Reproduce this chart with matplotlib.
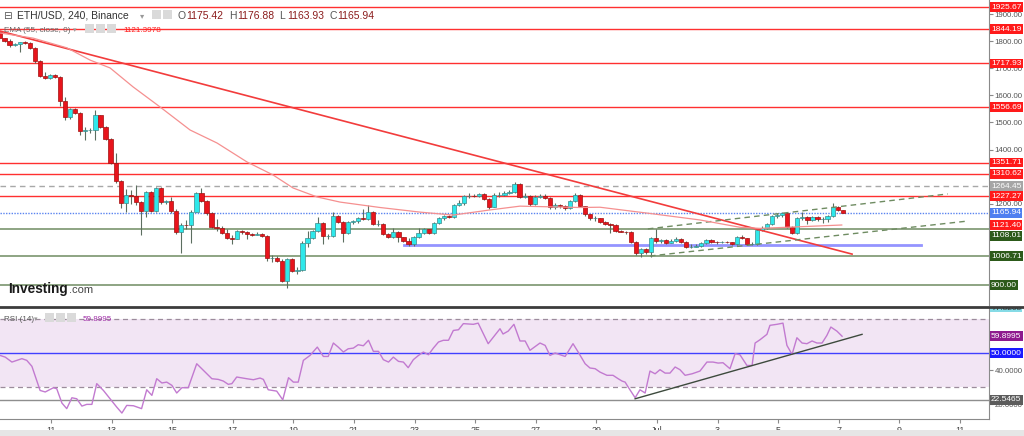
import numpy as np
import matplotlib
matplotlib.use("Agg")
import matplotlib.pyplot as plt
from matplotlib.patches import Rectangle
from matplotlib.lines import Line2D
from matplotlib.transforms import Bbox, TransformedBbox

plt.rcParams['font.family'] = ['Liberation Sans', 'DejaVu Sans']

# ---- 4h candles, ETH/USD (Binance) ----
start_day = 9.30          # day-of-June of the first candle, one candle = 1/6 day
first_open = 1835
close = [1810, 1802, 1785, 1791, 1795, 1793, 1773, 1728, 1671, 1665,
         1674, 1668, 1578, 1519, 1549, 1535, 1469, 1471, 1472, 1527,
         1484, 1439, 1350, 1282, 1204, 1232, 1230, 1207, 1174, 1244,
         1174, 1258, 1207, 1210, 1172, 1094, 1122, 1120, 1170, 1238,
         1211, 1167, 1115, 1112, 1093, 1072, 1071, 1100, 1095, 1088,
         1086, 1090, 1082, 998, 1000, 990, 916, 995, 952, 955,
         1056, 1072, 1100, 1130, 1081, 1082, 1155, 1134, 1091, 1131,
         1136, 1148, 1145, 1170, 1125, 1126, 1088, 1078, 1097, 1076,
         1063, 1051, 1078, 1093, 1106, 1092, 1128, 1146, 1155, 1152,
         1195, 1203, 1228, 1230, 1229, 1235, 1216, 1188, 1232, 1233,
         1238, 1242, 1273, 1226, 1228, 1198, 1226, 1230, 1222, 1186,
         1196, 1190, 1184, 1210, 1232, 1191, 1161, 1146, 1146, 1134,
         1124, 1122, 1100, 1097, 1094, 1060, 1017, 1033, 1020, 1072,
         1062, 1066, 1056, 1062, 1070, 1060, 1039, 1042, 1044, 1055,
         1066, 1060, 1057, 1058, 1057, 1051, 1078, 1072, 1051, 1052,
         1103, 1110, 1125, 1155, 1157, 1164, 1115, 1093, 1146, 1152,
         1140, 1150, 1144, 1145, 1155, 1187, 1175.42, 1165.94]
high = [1842, 1812, 1806, 1794, 1798, 1800, 1795, 1778, 1732, 1685,
        1678, 1678, 1672, 1594, 1553, 1552, 1538, 1483, 1480, 1545,
        1528, 1486, 1442, 1388, 1286, 1254, 1250, 1270, 1210, 1248,
        1246, 1262, 1260, 1214, 1224, 1180, 1130, 1140, 1175, 1245,
        1258, 1214, 1168, 1145, 1118, 1105, 1085, 1104, 1102, 1100,
        1092, 1094, 1092, 1084, 1010, 1008, 995, 1000, 998, 968,
        1062, 1100, 1104, 1150, 1134, 1090, 1170, 1158, 1138, 1135,
        1140, 1152, 1180, 1195, 1172, 1140, 1130, 1092, 1110, 1099,
        1078, 1072, 1082, 1110, 1110, 1108, 1132, 1150, 1158, 1160,
        1200, 1212, 1232, 1240, 1236, 1240, 1238, 1220, 1240, 1245,
        1248, 1250, 1280, 1275, 1238, 1232, 1232, 1236, 1234, 1226,
        1202, 1200, 1194, 1214, 1240, 1236, 1192, 1162, 1155, 1148,
        1136, 1128, 1124, 1104, 1100, 1098, 1062, 1038, 1036, 1076,
        1108, 1070, 1068, 1068, 1076, 1074, 1062, 1050, 1050, 1058,
        1070, 1070, 1064, 1064, 1062, 1060, 1082, 1085, 1074, 1058,
        1106, 1118, 1130, 1160, 1166, 1170, 1168, 1118, 1150, 1170,
        1154, 1154, 1154, 1150, 1158, 1204, 1190, 1176.88]
low = [1805, 1797, 1780, 1783, 1760, 1788, 1770, 1718, 1668, 1660,
       1662, 1664, 1560, 1509, 1512, 1530, 1454, 1435, 1462, 1435,
       1480, 1435, 1346, 1278, 1184, 1169, 1200, 1196, 1085, 1150,
       1168, 1168, 1200, 1200, 1165, 1090, 1019, 1105, 1056, 1168,
       1205, 1160, 1110, 1100, 1088, 1068, 1050, 1068, 1090, 1070,
       1082, 1084, 1078, 990, 985, 985, 912, 888, 948, 940,
       950, 1040, 1068, 1096, 1050, 1070, 1078, 1128, 1060, 1088,
       1126, 1128, 1140, 1140, 1120, 1118, 1085, 1074, 1074, 1060,
       1058, 1045, 1045, 1075, 1088, 1088, 1088, 1125, 1140, 1146,
       1148, 1190, 1196, 1222, 1224, 1226, 1212, 1182, 1186, 1226,
       1230, 1236, 1238, 1222, 1220, 1192, 1195, 1220, 1216, 1180,
       1182, 1184, 1176, 1182, 1206, 1186, 1156, 1140, 1138, 1128,
       1120, 1093, 1096, 1094, 1090, 1056, 1012, 1002, 1015, 1005,
       1055, 1056, 1050, 1055, 1058, 1056, 1036, 1036, 1040, 1040,
       1052, 1056, 1052, 1054, 1054, 1048, 1048, 1068, 1046, 1046,
       1048, 1098, 1108, 1120, 1148, 1150, 1112, 1088, 1090, 1140,
       1125, 1136, 1138, 1130, 1132, 1152, 1172, 1163.93]

# EMA(55)
ema_day = [9.32, 10.41, 11.53, 12.29, 12.95, 13.71, 14.60, 15.59, 16.48, 17.47,
           18.33, 18.99, 19.78, 20.54, 21.86, 23.18, 24.27, 25.49, 26.48, 28.46,
           29.12, 30.77, 32.42, 33.74, 34.40, 35.72, 37.10]
ema_val = [1830, 1811, 1775, 1730, 1701, 1631, 1557, 1472, 1424, 1354,
           1306, 1258, 1225, 1206, 1186, 1169, 1158, 1177, 1191, 1186,
           1187, 1164, 1140, 1113, 1109, 1115, 1121.40]

# RSI(14)
rsi_day = [9.32, 9.49, 9.71, 10.04, 10.20, 10.37, 10.64, 10.81, 11.08, 11.19,
           11.36, 11.52, 11.69, 11.85, 12.02, 12.18, 12.35, 12.51, 12.73, 12.95,
           13.17, 13.34, 13.50, 13.72, 13.99, 14.16, 14.33, 14.49, 14.66, 14.82,
           14.99, 15.15, 15.32, 15.53, 15.81, 16.03, 16.31, 16.52, 16.69, 16.85,
           16.97, 17.13, 17.46, 17.68, 17.90, 18.01, 18.17, 18.45, 18.65, 18.84,
           19.00, 19.16, 19.33, 19.55, 19.79, 19.99, 20.15, 20.32, 20.48, 20.65,
           20.81, 20.98, 21.14, 21.31, 21.48, 21.64, 21.81, 21.97, 22.14, 22.30,
           22.47, 22.63, 22.79, 22.96, 23.13, 23.29, 23.46, 23.62, 23.79, 23.95,
           24.12, 24.28, 24.45, 24.61, 24.94, 25.10, 25.43, 25.82, 25.92, 26.09,
           26.28, 26.48, 26.65, 26.81, 27.14, 27.31, 27.47, 27.64, 27.97, 28.23,
           28.40, 28.63, 28.79, 28.96, 29.12, 29.35, 29.55, 29.72, 29.85, 29.95,
           30.05, 30.28, 30.44, 30.61, 30.77, 30.94, 31.10, 31.27, 31.43, 31.60,
           31.76, 31.93, 32.16, 32.42, 32.65, 32.85, 33.02, 33.18, 33.41, 33.58,
           33.74, 33.97, 34.14, 34.24, 34.40, 34.63, 34.73, 34.96, 35.16, 35.29,
           35.46, 35.62, 35.79, 35.95, 36.12, 36.28, 36.45, 36.61, 36.74, 36.94,
           37.11]
rsi_val = [48.6, 47.6, 44.7, 46.7, 45.7, 42.2, 28.0, 27.1, 29.6, 29.0,
           20.6, 17.3, 23.7, 23.1, 18.8, 19.8, 19.8, 32.0, 28.0, 23.1,
           18.2, 14.7, 19.2, 19.0, 17.3, 28.4, 25.1, 34.9, 32.4, 32.9,
           31.0, 26.5, 29.6, 29.6, 43.7, 39.8, 34.9, 34.5, 33.5, 31.6,
           32.0, 35.9, 34.9, 34.3, 35.3, 34.5, 28.4, 27.6, 22.5, 35.5,
           32.9, 32.9, 45.7, 48.6, 53.5, 48.0, 48.0, 55.9, 53.5, 50.6,
           52.5, 52.9, 54.9, 54.3, 57.5, 51.0, 51.0, 46.1, 44.7, 47.6,
           45.1, 44.7, 41.4, 46.1, 48.6, 50.6, 49.0, 52.9, 56.5, 57.5,
           57.5, 63.3, 63.7, 67.3, 66.9, 67.6, 55.5, 64.3, 61.2, 62.9,
           66.9, 57.1, 57.1, 51.6, 55.9, 54.5, 48.6, 50.0, 48.0, 55.5,
           50.6, 43.7, 41.2, 40.8, 38.8, 36.9, 36.9, 34.9, 33.5, 32.9,
           30.0, 23.7, 28.4, 26.5, 39.4, 37.8, 40.2, 38.2, 38.2, 41.8,
           40.2, 36.9, 37.8, 39.4, 44.7, 44.7, 44.1, 44.3, 40.8, 49.6,
           49.0, 42.7, 42.7, 55.9, 57.8, 61.0, 66.3, 66.9, 67.6, 54.5,
           49.2, 59.0, 55.9, 55.5, 57.1, 55.9, 55.9, 60.4, 65.3, 62.9,
           59.8995]

# drawn levels / trend lines
red_levels = [1925.67, 1844.19, 1717.93, 1556.69, 1351.71, 1310.62, 1227.27]
green_levels = [1108.01, 1006.71, 900.00]
grey_level = 1264.45
last_price = 1165.94
zone_days, zone_price = [22.65, 39.71], 1048
trend_days, trend_price = [9.32, 37.44], [1837, 1014]
chan_up_days, chan_up_price = [30.70, 40.60], [1107, 1236]
chan_lo_days, chan_lo_price = [30.77, 41.26], [1007, 1136]
rsi_tr_days, rsi_tr_val = [30.28, 37.77], [23.1, 61.0]
rsi_low = 22.5465
price_ticks = [1200, 1400, 1500, 1600, 1700, 1800, 1900]
rsi_ticks = [20, 40]
tick_days = list(range(11, 42, 2))
tick_labels = ['11', '13', '15', '17', '19', '21', '23', '25', '27', '29',
               'Jul', '3', '5', '7', '9', '11']

W, H = 1024, 436
LBL = 6.0


def fx(px):
    return px / W


def fy(py):
    return 1 - py / H


fig = plt.figure(figsize=(W / 100, H / 100), dpi=100, facecolor='white')
ax = fig.add_axes([0, fy(305), fx(989), 305 / H])
rx = fig.add_axes([0, fy(419), fx(989), (419 - 308) / H])

xlim = (9.317, 41.96)
for a in (ax, rx):
    a.set_xlim(*xlim)
    for s in ('top', 'left'):
        a.spines[s].set_visible(False)
    a.spines['right'].set_color('#8a8a8a')
    a.yaxis.tick_right()
    a.tick_params(axis='y', colors='#8a8a8a', labelcolor='#555555',
                  labelsize=5.7, length=3, pad=1)
ax.spines['bottom'].set_visible(False)
ax.set_xticks([])
ax.set_ylim(826.2, 1951.7)
rx.set_ylim(11.2, 76.5)

# candles
n = len(close)
t = start_day + np.arange(n) / 6
o = np.array([first_open] + close[:-1], dtype=float)
c = np.array(close, dtype=float)
hi = np.maximum(np.array(high, dtype=float), np.maximum(o, c))
lo = np.minimum(np.array(low, dtype=float), np.minimum(o, c))
up = c >= o
ax.vlines(t, lo, hi, color='#5c6e60', lw=0.8, zorder=3)
ax.bar(t[up], (c - o)[up], bottom=o[up], width=0.14, color='#2ee8ea',
       edgecolor='#3d8a8a', lw=0.5, zorder=4)
ax.bar(t[~up], (c - o)[~up], bottom=o[~up], width=0.14, color='#e8141c',
       edgecolor='#a01010', lw=0.5, zorder=4)

# levels
for lv in red_levels:
    ax.axhline(lv, color='#ff3030', lw=1.0, zorder=2)
for lv in green_levels:
    ax.axhline(lv, color='#6f8c62', lw=1.1, zorder=2)
ax.axhline(grey_level, color='#a8a8a8', lw=1.0, ls=(0, (4, 3)), zorder=2)
ax.axhline(last_price, color='#5a84f0', lw=1.0, ls=(0, (1, 1)), zorder=2)
ax.plot(zone_days, [zone_price] * 2, color='#9494ff', lw=2.0, zorder=2)
ax.plot(trend_days, trend_price, color='#f23c3c', lw=1.2, zorder=5)
ax.plot(chan_up_days, chan_up_price, color='#6f8c62', lw=1.0, ls=(0, (4, 3)), zorder=5)
ax.plot(chan_lo_days, chan_lo_price, color='#6f8c62', lw=1.0, ls=(0, (4, 3)), zorder=5)
ax.plot(ema_day, ema_val, color='#f59090', lw=0.9, zorder=5)

ax.set_yticks(price_ticks)
ax.set_yticklabels([f'{v:.2f}' for v in price_ticks])


def plabel(a, y, s, bg, fg='white'):
    return a.text(1.002, y, s, transform=a.get_yaxis_transform(), ha='left',
                  va='center', fontsize=LBL, color=fg, clip_on=False, zorder=10,
                  bbox=dict(boxstyle='square,pad=0.16', fc=bg, ec='none'))


for lv in red_levels:
    plabel(ax, lv, f'{lv:.2f}', '#ff1a1a')
plabel(ax, grey_level, f'{grey_level:.2f}', '#a6a6a6')
plabel(ax, ema_val[-1], f'{ema_val[-1]:.2f}', '#ff1a1a')
plabel(ax, last_price, f'{last_price:.2f}', '#4f7ff0')
# the 1108.01 tag is pushed down below the EMA tag, as on the chart
plabel(ax, 1081, f'{green_levels[0]:.2f}', '#2c5a1a')
for lv in green_levels[1:]:
    plabel(ax, lv, f'{lv:.2f}', '#2c5a1a')

# RSI panel
rx.axhspan(30, 70, color='#f2e5f4', lw=0, zorder=0)
rx.axhline(70, color='#9c8c9c', lw=0.9, ls=(0, (4, 3)))
rx.axhline(30, color='#9c8c9c', lw=0.9, ls=(0, (4, 3)))
rx.axhline(50, color='#4040ff', lw=1.0)
rx.axhline(rsi_low, color='#8e8e8e', lw=1.0)
rx.plot(rsi_day, rsi_val, color='#c27ad0', lw=1.0, zorder=4)
rx.plot(rsi_tr_days, rsi_tr_val, color='#3d4a3d', lw=1.0, zorder=5)
rx.set_yticks(rsi_ticks)
rx.set_yticklabels([f'{v:.4f}' for v in rsi_ticks])
plabel(rx, rsi_val[-1], f'{rsi_val[-1]:.4f}', '#8e1a8e')
plabel(rx, 50, '50.0000', '#1a1aff')
plabel(rx, rsi_low, f'{rsi_low:.4f}', '#5c5c5c')

# half-hidden tag at the top of the RSI scale
fig.add_artist(Rectangle((fx(990), fy(312)), 32 / W, 5 / H,
                         transform=fig.transFigure, fc='#86dbe6', ec='none'))
top_tag = fig.text(fx(992), fy(308), '77.8268', fontsize=LBL, color='#333333',
                   va='center')
top_tag.set_clip_box(TransformedBbox(Bbox([[0, 0], [1, fy(308)]]), fig.transFigure))
top_tag.set_clip_on(True)

rx.spines['bottom'].set_color('#8a8a8a')
rx.set_xticks(tick_days)
rx.set_xticklabels(tick_labels)
rx.tick_params(axis='x', colors='#8a8a8a', labelcolor='#444444',
               labelsize=6.5, length=3, pad=2)

# panel divider and bottom band
fig.add_artist(Line2D([0, 1], [fy(306.5)] * 2, color='#3c3c3c', lw=2))
fig.add_artist(Rectangle((0, 0), 1, 6 / H, transform=fig.transFigure,
                         fc='#e6e6e6', ec='none'))


def icons(x0, ytop, k):
    for i in range(k):
        fig.add_artist(Rectangle((fx(x0 + i * 11), fy(ytop + 9)), 9 / W, 9 / H,
                                 transform=fig.transFigure, fc='#dadada', ec='none'))


# header texts
fig.text(fx(3), fy(19), '⊟', fontsize=7.5, color='#555555')
fig.text(fx(17), fy(19), 'ETH/USD, 240, Binance', fontsize=7.5, color='#333333')
fig.text(fx(140), fy(18), '▾', fontsize=6, color='#999999')
icons(152, 10, 2)
for lab, val, x0 in [('O', '1175.42', 178), ('H', '1176.88', 229),
                     ('L', '1163.93', 279), ('C', '1165.94', 329)]:
    fig.text(fx(x0), fy(19), lab, fontsize=7.5, color='#555555')
    fig.text(fx(x0 + 8), fy(19), val, fontsize=7.5, color='#8b1c1c')
fig.text(fx(4), fy(32), 'EMA (55, close, 0)', fontsize=5.9, color='#666666')
fig.text(fx(73), fy(32), '▾', fontsize=5, color='#999999')
icons(85, 24, 3)
fig.text(fx(123), fy(32), '1121.3978', fontsize=5.9, color='#ff2020')
fig.text(fx(4), fy(321), 'RSI (14)', fontsize=5.8, color='#555555')
fig.text(fx(34), fy(321), '▾', fontsize=5, color='#999999')
icons(45, 313, 3)
fig.text(fx(83), fy(321), '59.8995', fontsize=5.8, color='#a030a8')

# watermark
fig.text(fx(8), fy(293), 'Investing', fontsize=9.8, fontweight='bold', color='#1a1a1a')
fig.text(fx(69), fy(293), '.com', fontsize=8, color='#444444')

fig.savefig('out.png', dpi=100, facecolor='white')
